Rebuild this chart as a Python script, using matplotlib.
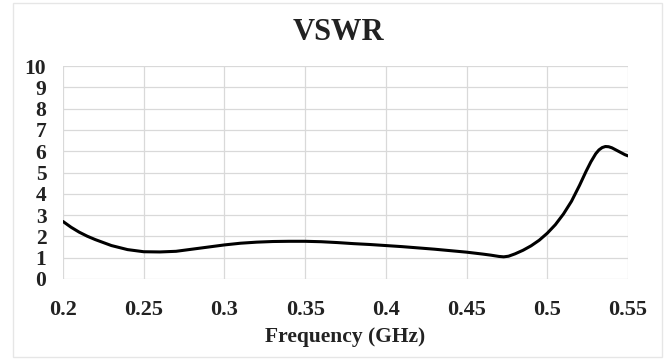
import matplotlib
matplotlib.use("Agg")
import matplotlib.pyplot as plt
from matplotlib.patches import Rectangle

freq = [0.200, 0.205, 0.210, 0.215, 0.220, 0.230, 0.240, 0.250, 0.260, 0.270, 0.280, 0.290,
        0.300, 0.310, 0.320, 0.330, 0.340, 0.350, 0.360, 0.370, 0.380, 0.390,
        0.400, 0.410, 0.420, 0.430, 0.440, 0.450, 0.460, 0.465, 0.470, 0.473, 0.476, 0.480,
        0.485, 0.490, 0.495, 0.500, 0.505, 0.510, 0.515, 0.520, 0.524, 0.527, 0.530,
        0.532, 0.534, 0.536, 0.538, 0.540, 0.542, 0.545, 0.548, 0.550]
vswr = [2.70, 2.43, 2.20, 2.01, 1.85, 1.57, 1.38, 1.28, 1.27, 1.30, 1.40, 1.50,
        1.60, 1.68, 1.73, 1.76, 1.77, 1.77, 1.75, 1.71, 1.66, 1.62,
        1.57, 1.52, 1.46, 1.40, 1.33, 1.26, 1.17, 1.12, 1.06, 1.04, 1.07, 1.18,
        1.35, 1.56, 1.82, 2.15, 2.55, 3.05, 3.65, 4.40, 5.05, 5.50, 5.88,
        6.06, 6.17, 6.22, 6.21, 6.16, 6.08, 5.96, 5.84, 5.78]

x_ticks = [0.2, 0.25, 0.3, 0.35, 0.4, 0.45, 0.5, 0.55]
x_tick_labels = ["0.2", "0.25", "0.3", "0.35", "0.4", "0.45", "0.5", "0.55"]
y_ticks = list(range(0, 11))

plt.rcParams['font.family'] = ['Liberation Serif', 'DejaVu Serif']

W, H = 668, 360
fig = plt.figure(figsize=(W / 100, H / 100), dpi=100)
fig.patch.set_facecolor("white")
ax = fig.add_axes([63 / W, 1 - 279 / H, (628 - 63) / W, (279 - 66) / H])

ax.plot(freq, vswr, color="black", linewidth=2.2, solid_capstyle="round",
        solid_joinstyle="round")

ax.set_xlim(0.2, 0.55)
ax.set_ylim(0, 10)
ax.set_xticks(x_ticks)
ax.set_xticklabels(x_tick_labels)
ax.set_yticks(y_ticks)
ax.grid(True, color="#d9d9d9", linewidth=0.9)
ax.set_axisbelow(True)
for s in ax.spines.values():
    s.set_visible(False)
ax.tick_params(axis="x", length=0, labelsize=16, pad=15)
ax.tick_params(axis="y", length=0, labelsize=15.5, pad=12)
for lbl in ax.get_xticklabels() + ax.get_yticklabels():
    lbl.set_fontweight("bold")
    lbl.set_color("#222222")

ax.set_xlabel("Frequency (GHz)", fontsize=15.5, fontweight="bold", color="#222222", labelpad=5)
fig.text(338 / W, 1 - 33 / H, "VSWR", ha="center", va="center",
         fontsize=22, fontweight="bold", color="#222222")

fig.patches.append(Rectangle((13 / W, 3 / H), (662 - 13) / W, (357 - 3) / H,
                             transform=fig.transFigure, fill=False,
                             edgecolor="#e6e6e6", linewidth=1))

fig.savefig("out.png", dpi=100, facecolor="white")
